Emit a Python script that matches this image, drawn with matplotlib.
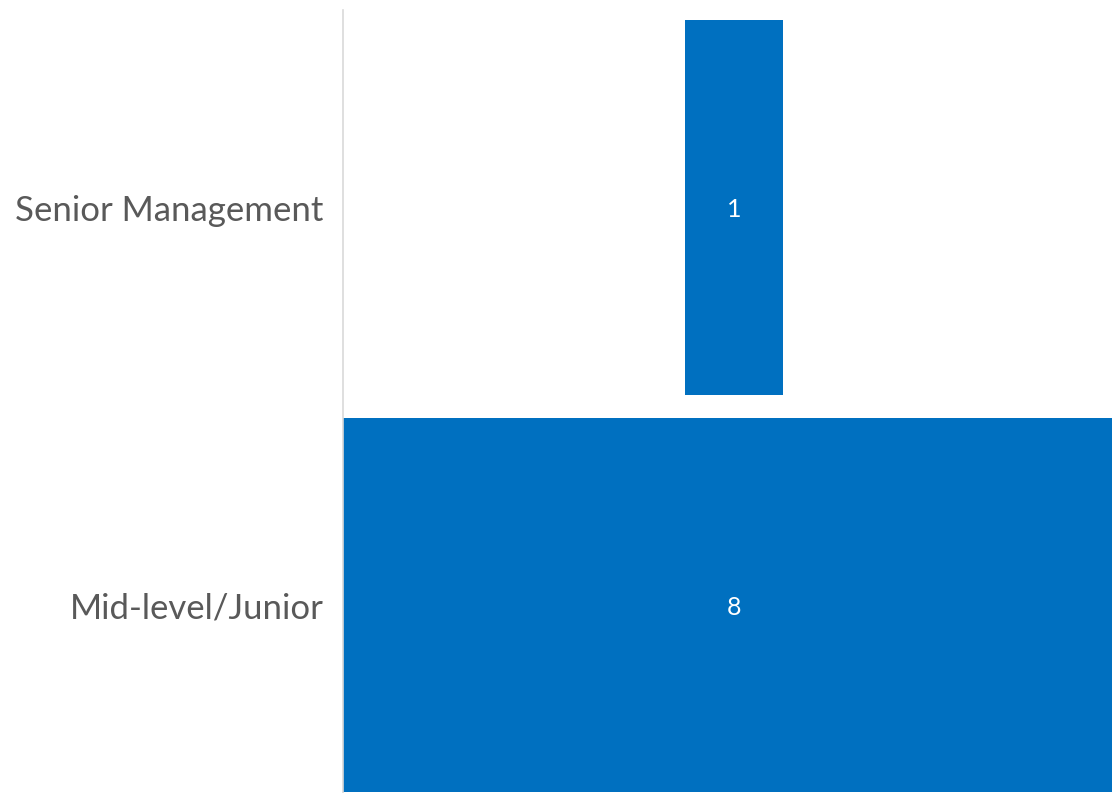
import numpy as np
import matplotlib.pyplot as plt

# data
categories = ['Senior Management', 'Mid-level/Junior']
values = [1, 8]

bar_color = '#0070C0'
label_color = '#595959'

plt.rcParams['font.family'] = ['Lato', 'DejaVu Sans']

fig = plt.figure(figsize=(11.12, 7.93), dpi=100)
ax = fig.add_axes([343 / 1112, 0, 1 - 343 / 1112, 1 - 10 / 793])

# centred bars (funnel style), top category first
ypos = np.arange(len(categories))[::-1]
vals = np.array(values, dtype=float)
ax.barh(ypos, vals, left=-vals / 2, height=0.943, color=bar_color)

for y, v in zip(ypos, values):
    ax.text(0, y, str(v), color='white', ha='center', va='center_baseline', fontsize=18)

ax.set_xlim(-4, 3.87)
ax.set_ylim(-0.473, 1.497)
ax.set_yticks(ypos)
ax.set_yticklabels(categories, fontsize=25, color=label_color, va='center_baseline')
ax.tick_params(axis='y', length=0, pad=14)
ax.set_xticks([])

for s in ['top', 'right', 'bottom']:
    ax.spines[s].set_visible(False)
ax.spines['left'].set_color('#d9d9d9')
ax.spines['left'].set_linewidth(1.2)

fig.savefig('out.png', dpi=100)
